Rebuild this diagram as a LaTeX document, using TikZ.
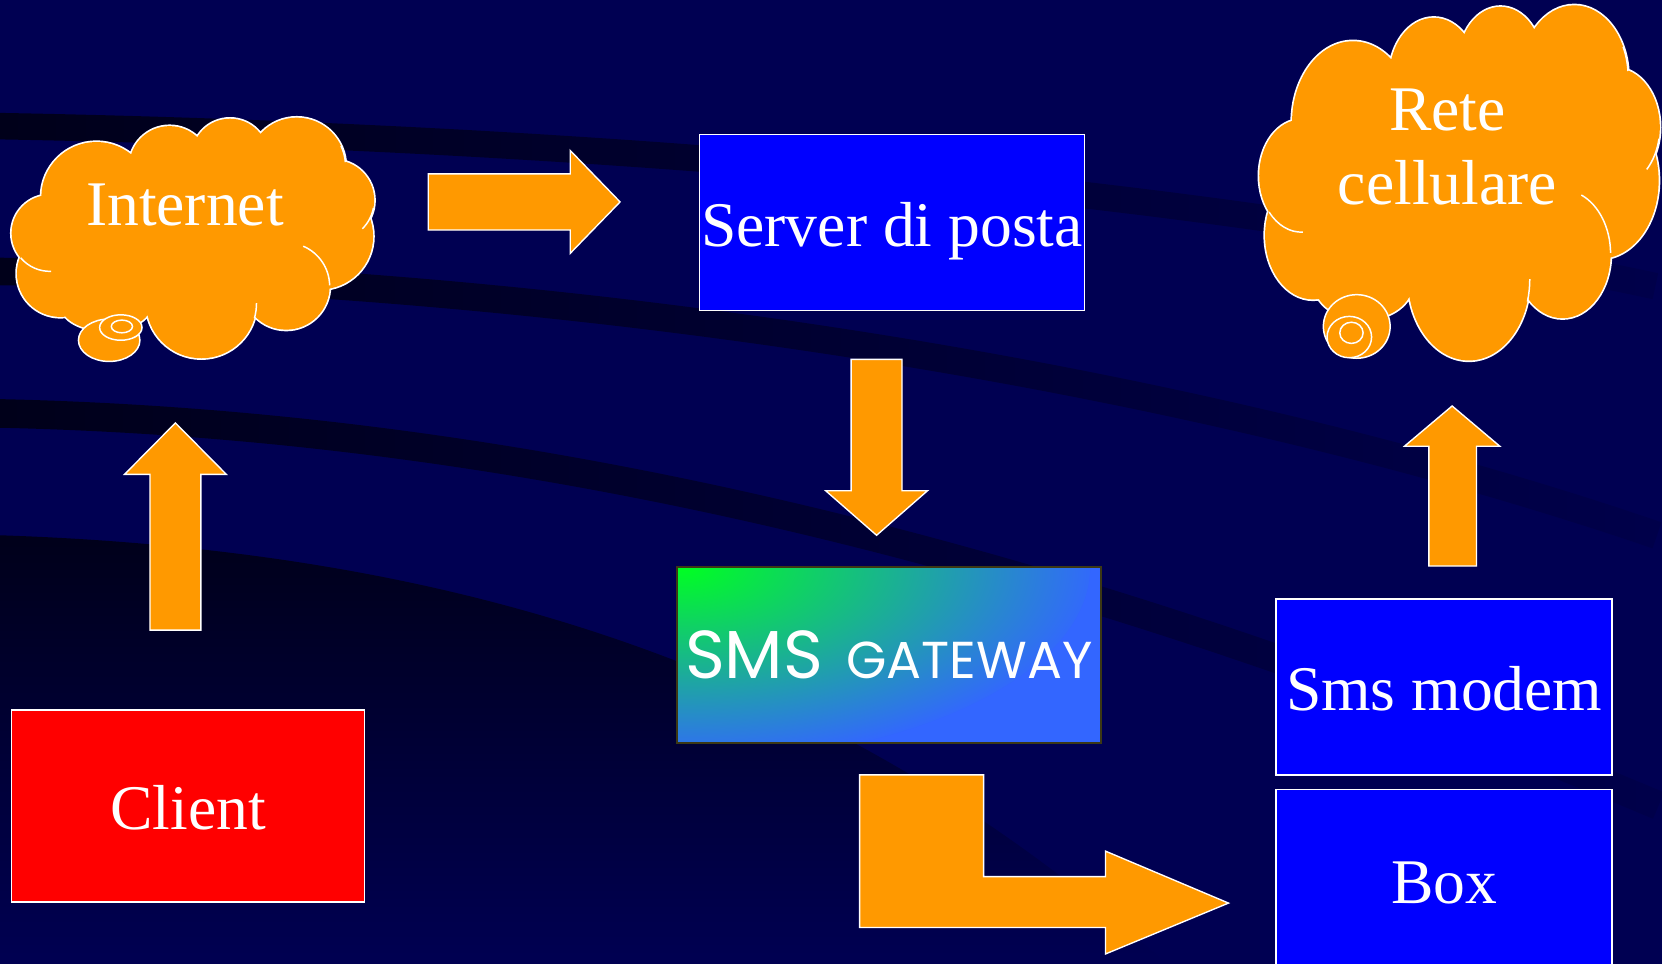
\documentclass[tikz,border=0pt]{standalone}
\usepackage{fontspec}
\setmainfont{Liberation Serif}
\newfontfamily\gwfont{Poppins}
\usetikzlibrary{fadings}
\definecolor{navy}{HTML}{000052}
\definecolor{band}{HTML}{00001A}
\definecolor{ppOrange}{HTML}{FF9900}
\definecolor{ppBlue}{HTML}{0000FF}
\definecolor{ppRed}{HTML}{FF0000}
\definecolor{gwGreen}{HTML}{00FF22}
\definecolor{gwBlue}{HTML}{3366FF}
\definecolor{gwEdge}{HTML}{3C3814}
\tikzfading[name=fadeR, left color=transparent!0, right color=transparent!88]
\newcommand\bigserif{\fontsize{60}{70}\selectfont}
\newcommand\cloudshape{(47,220) circle[radius=36] (91,186) circle[radius=52]
  (160,157) circle[radius=38] (217,148) circle[radius=36] (280,157) circle[radius=46]
  (315,189) circle[radius=38] (302,223) circle[radius=50] (270,270) circle[radius=41]
  (190,286) circle[radius=52] (57,258) circle[radius=41]
  (100,289) ellipse[x radius=42, y radius=23]
  (182,220) ellipse[x radius=126, y radius=72]}
\newcommand\cloudarcs{(270,270) ++(-67:41) arc[start angle=-67, end angle=-1, radius=41]
  (47,220) ++(88:36) arc[start angle=88, end angle=140, radius=36]
  (315,189) ++(11:38) arc[start angle=11, end angle=45, radius=38]
  (190,286) ++(0:52) arc[start angle=0, end angle=16, radius=52]
  (280,157) ++(-25:46) arc[start angle=-25, end angle=-5, radius=46]}
\tikzset{
  box/.style={draw=white, line width=1.5pt, fill=ppBlue, text=white, font=\bigserif, inner sep=0pt, text depth=0pt},
  blockarrow/.style={fill=ppOrange, draw=white, line width=1.3pt, line join=miter},
  cloudtext/.style={text=white, font=\bigserif, anchor=base, inner sep=0pt},
  bandline/.style={draw=band, line width=#1, path fading=fadeR},
  puffline/.style={draw=white, line width=3.2pt},
  pufffill/.style={fill=ppOrange},
  pufftick/.style={draw=white, line width=1.4pt},
  bubble/.style={fill=ppOrange, draw=white, line width=1.4pt}
}
\begin{document}
\begin{tikzpicture}[x=1pt, y=-1pt]
\useasboundingbox (0,0) rectangle (1568,909);
% background
\fill[navy] (0,0) rectangle (1568,909);
\shade[top color=band, bottom color=navy] (0,505) .. controls (450,520) and (800,640) .. (1100,909) -- (0,909) -- cycle;
\draw[bandline=25pt] (0,119) .. controls (500,128) and (1100,170) .. (1568,270);
\draw[bandline=26pt] (0,256) .. controls (500,262) and (1100,345) .. (1568,505);
\draw[bandline=27pt] (0,390) .. controls (450,400) and (950,500) .. (1568,760);

% Internet cloud
\path[puffline] \cloudshape;
\path[pufffill] \cloudshape;
\path[pufftick] \cloudarcs;
\path[bubble] (103,321) ellipse[x radius=29, y radius=20];
\path[bubble] (114,309) ellipse[x radius=20, y radius=12];
\path[bubble] (115,308) ellipse[x radius=10, y radius=6];
\node[cloudtext] (internet) at (174.5,212.5) {Internet};

% Rete cellulare cloud
\begin{scope}[shift={(1188,5)}, xscale=1.105, yscale=1.476, shift={(-11,-111)}]
  \path[puffline] \cloudshape;
  \path[pufffill] \cloudshape;
  \path[pufftick] \cloudarcs;
\end{scope}
\path[bubble] (1280,308) ellipse[x radius=31.5, y radius=30];
\path[bubble] (1273,318) ellipse[x radius=21, y radius=19.5];
\path[bubble] (1275,314) ellipse[x radius=11, y radius=10];
\node[cloudtext] (rete1) at (1365.5,123) {Rete};
\node[cloudtext] (rete2) at (1365.5,193) {cellulare};

% boxes
\node[box, minimum width=363pt, minimum height=166pt, text height=46pt] (server) at (841.5,210) {Server di posta};
\node[box, fill=ppRed, minimum width=333pt, minimum height=181pt, text height=45pt] (client) at (177.5,760.5) {Client};
\node[box, minimum width=317pt, minimum height=166pt, text height=44pt] (modem) at (1362.5,648) {Sms modem};
\node[box, minimum width=317pt, minimum height=174pt, text height=40pt] (boxnode) at (1362.5,832) {Box};
\node[box, draw=gwEdge, line width=2pt, fill=gwBlue, minimum width=400pt, minimum height=166pt, text height=44pt,
  path picture={\shade[inner color=gwGreen, outer color=gwBlue] (path picture bounding box.north west) ellipse[x radius=390, y radius=185];}]
  (gateway) at (838.5,618) {\gwfont\fontsize{64}{64}\selectfont SMS\hspace{22pt}\fontsize{49}{49}\selectfont GATEWAY};

% block arrows
\draw[blockarrow] (404,164) -- (538,164) -- (538,142) -- (585,190.5) -- (538,239) -- (538,217) -- (404,217) -- cycle;
\draw[blockarrow] (803,339) -- (851,339) -- (851,463) -- (875,463) -- (827,505) -- (779,463) -- (803,463) -- cycle;
\draw[blockarrow] (141.5,594.5) -- (141.5,447.5) -- (117.5,447.5) -- (165.5,399) -- (213.5,447.5) -- (189.5,447.5) -- (189.5,594.5) -- cycle;
\draw[blockarrow] (1348,534) -- (1348,421) -- (1325,421) -- (1370,383) -- (1415,421) -- (1393,421) -- (1393,534) -- cycle;
\draw[blockarrow] (811,731) -- (928,731) -- (928,827) -- (1043,827) -- (1043,803) -- (1159,852) -- (1043,900) -- (1043,875) -- (811,875) -- cycle;
\end{tikzpicture}
\end{document}
